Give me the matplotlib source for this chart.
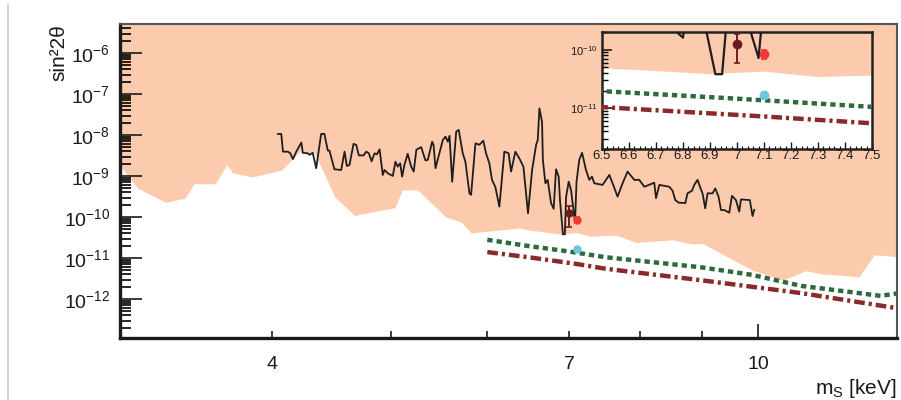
import matplotlib

matplotlib.use("Agg")
import matplotlib.pyplot as plt
import numpy as np
from matplotlib.lines import Line2D
from matplotlib.ticker import LogLocator, NullFormatter

plt.rcParams["font.family"] = ["Liberation Sans", "DejaVu Sans"]
plt.rcParams["mathtext.fontset"] = "custom"
plt.rcParams["mathtext.rm"] = "Liberation Sans"
plt.rcParams["mathtext.it"] = "Liberation Sans:italic"
plt.rcParams["mathtext.bf"] = "Liberation Sans:bold"

# excluded region: lower edge of the shaded area (mass in keV, sin^2 2theta)
bound_mass = [3.00, 3.10, 3.27, 3.39, 3.45, 3.59, 3.67, 3.71, 3.85, 4.07, 4.21, 4.33,
              4.50, 4.67, 5.04, 5.11, 5.26, 5.55, 5.71, 5.82, 6.37, 6.50, 6.70, 6.90,
              7.00, 7.10, 7.30, 7.50, 7.65, 7.95, 8.51, 8.83, 9.00, 9.89, 10.47, 10.95,
              11.29, 12.10, 12.45, 12.95, 13.0]
bound_val = [1.8e-9, 5.1e-10, 2.3e-10, 2.9e-10, 6.5e-10, 6.5e-10, 1.9e-9, 1.2e-9, 9.5e-10,
             1.4e-9, 3.9e-9, 3.7e-9, 3.1e-10, 1.1e-10, 1.7e-10, 4.6e-10, 4.6e-10, 1.0e-10,
             7.6e-11, 4.1e-11, 5.4e-11, 4.8e-11, 4.3e-11, 3.8e-11, 4.0e-11, 4.2e-11,
             3.4e-11, 3.6e-11, 3.6e-11, 2.4e-11, 2.8e-11, 2.2e-11, 2.3e-11, 5.1e-12,
             2.9e-12, 4.9e-12, 4.1e-12, 3.5e-12, 1.2e-11, 1.1e-11, 1.1e-11]

# scan limit (black line)
scan_mass = [4.042, 4.067, 4.080, 4.118, 4.137, 4.157, 4.184, 4.224, 4.236, 4.276, 4.290,
             4.316, 4.344, 4.385, 4.412, 4.440, 4.454, 4.496, 4.554, 4.583, 4.603, 4.626,
             4.661, 4.685, 4.708, 4.750, 4.774, 4.798, 4.823, 4.850, 4.871, 4.896, 4.926,
             4.942, 4.973, 5.020, 5.045, 5.067, 5.090, 5.109, 5.131, 5.163, 5.197, 5.222,
             5.248, 5.296, 5.339, 5.363, 5.407, 5.421, 5.441, 5.517, 5.545, 5.569, 5.587,
             5.615, 5.658, 5.685, 5.728, 5.757, 5.801, 5.819, 5.867, 5.910, 5.955, 5.985,
             6.023, 6.053, 6.091, 6.138, 6.196, 6.246, 6.275, 6.326, 6.374, 6.423, 6.479,
             6.529, 6.579, 6.599, 6.620, 6.653, 6.663, 6.695, 6.724, 6.767, 6.800, 6.831,
             6.865, 6.882, 6.920, 6.945, 6.962, 6.996, 7.027, 7.080, 7.100, 7.137, 7.175,
             7.228, 7.273, 7.310, 7.342, 7.458, 7.553, 7.600, 7.672, 7.745, 7.818, 7.918,
             7.993, 8.069, 8.222, 8.249, 8.301, 8.459, 8.511, 8.555, 8.609, 8.718, 8.754,
             8.829, 8.866, 8.922, 8.963, 9.006, 9.052, 9.092, 9.178, 9.225, 9.283, 9.325,
             9.383, 9.472, 9.520, 9.592, 9.652, 9.683, 9.847, 9.897, 9.929]
scan_val = [1.07e-8, 1.07e-8, 3.95e-9, 3.95e-9, 3.6e-9, 2.6e-9, 3.95e-9, 6.6e-9, 3.7e-9,
            3.6e-9, 3.3e-9, 3.7e-9, 1.56e-9, 1.07e-8, 1.07e-8, 4.2e-9, 4.2e-9, 1.47e-9,
            1.41e-9, 3.95e-9, 1.77e-9, 1.87e-9, 6.1e-9, 5.8e-9, 3.2e-9, 3.2e-9, 3.95e-9,
            3.6e-9, 2.3e-9, 3.6e-9, 3.4e-9, 4.5e-9, 1.07e-9, 1.41e-9, 1.17e-9, 1.01e-9,
            2.25e-9, 1.7e-9, 2.06e-9, 9.7e-10, 1.87e-9, 3.5e-9, 1.7e-9, 1.29e-9, 4.4e-9,
            5.1e-9, 2.4e-9, 2.5e-9, 6.9e-9, 5.8e-9, 1.56e-9, 7.6e-9, 9.2e-9, 6.9e-9, 9.6e-9,
            7.3e-10, 1.22e-8, 1.34e-8, 3.6e-9, 2.25e-9, 3.8e-10, 3.5e-10, 6.3e-9, 5.8e-9,
            7.3e-9, 3.6e-9, 2.06e-9, 8.1e-10, 5.5e-10, 1.8e-10, 3.95e-9, 3.6e-9, 1.29e-9,
            3.95e-9, 2.7e-9, 1.7e-9, 1.24e-10, 1.41e-9, 5.8e-9, 7.6e-9, 4.5e-8, 2.1e-8,
            2.5e-9, 6.7e-10, 8.1e-10, 2.2e-10, 1.6e-10, 1.47e-9, 9.7e-10, 2.6e-10, 3.8e-11,
            3.8e-11, 3.15e-10, 7.3e-10, 4.6e-10, 7.2e-11, 7.3e-10, 2.5e-9, 3.7e-9, 1.41e-9,
            8.1e-10, 9.7e-10, 6.7e-10, 6.1e-10, 1.07e-9, 6.7e-10, 3.15e-10, 6.7e-10, 1.29e-9,
            8.1e-10, 8.1e-10, 5.5e-10, 6.9e-10, 2.9e-10, 6.1e-10, 5.5e-10, 4.4e-10, 2.6e-10,
            2.25e-10, 2.2e-10, 3.8e-10, 4.4e-10, 6.1e-10, 8.1e-10, 5.5e-10, 3.8e-10, 1.64e-10,
            3.8e-10, 3.8e-10, 5.0e-10, 3.15e-10, 1.49e-10, 1.49e-10, 1.28e-10, 3.3e-10,
            2.6e-10, 1.36e-10, 2.7e-10, 2.6e-10, 1.06e-10, 1.5e-10]

# projected sensitivities
green_mass = [6.0, 6.5, 7.0, 7.5, 8.97, 9.89, 10.85, 12.1, 12.6, 13.0]
green_val = [2.8e-11, 1.95e-11, 1.45e-11, 1.05e-11, 6.0e-12, 3.9e-12, 2.1e-12, 1.4e-12,
             1.2e-12, 1.37e-12]
red_mass = [6.0, 6.5, 7.1, 7.5, 8.97, 10.85, 13.0]
red_val = [1.4e-11, 1.04e-11, 7.2e-12, 5.5e-12, 2.9e-12, 1.4e-12, 6.0e-13]

# signal claims (mass, value, err low, err high)
pts_mass = [7.0, 7.1, 7.1]
pts_val = [1.25e-10, 8.5e-11, 1.7e-11]
pts_lo = [6.7e-11, 1.5e-11, 2.0e-12]
pts_hi = [6.0e-11, 1.3e-11, 2.0e-12]
pts_color = ["#6b1d1d", "#f03a3a", "#6fc8dc"]

inset_ticks = [6.5, 6.6, 6.7, 6.8, 6.9, 7.0, 7.1, 7.2, 7.3, 7.4, 7.5]
inset_labels = ["6.5", "6.6", "6.7", "6.8", "6.9", "7", "7.1", "7.2", "7.3", "7.4", "7.5"]

PEACH = "#fccbad"
GREEN = "#2d6a3e"
DRED = "#8c2a2a"


def draw(ax, scan_lw, line_lw, ms):
    ax.fill_between(bound_mass, bound_val, 1e-3, color=PEACH, lw=0, zorder=1)
    ax.plot(scan_mass, scan_val, color="#1e1e1e", lw=scan_lw, zorder=3)
    ax.plot(green_mass, green_val, color=GREEN, lw=line_lw, dashes=(1.2, 0.9), zorder=4)
    ax.plot(red_mass, red_val, color=DRED, lw=line_lw, dashes=(2.4, 0.9, 0.7, 0.9), zorder=4)
    for m, v, lo, hi, c in zip(pts_mass, pts_val, pts_lo, pts_hi, pts_color):
        ax.errorbar([m], [v], yerr=[[lo], [hi]], fmt="o", color=c, ms=ms,
                    capsize=2, elinewidth=1.4, capthick=1.2, zorder=5)


fig = plt.figure(figsize=(9.01, 4.0), dpi=100)
ax = fig.add_axes([0.1332, 0.156, 0.8624, 0.7828])
ax.set_xscale("log")
ax.set_yscale("log")
draw(ax, 1.3, 3.2, 5)
ax.set_xlim(3.0, 13.0)
ax.set_ylim(1.15e-13, 5e-6)

ax.set_xticks([10], labels=["10"])
ax.set_xticks([4, 5, 6, 7, 8, 9], labels=["4", "", "", "7", "", ""], minor=True)
ax.tick_params(axis="x", which="major", direction="in", length=10, width=1.2, pad=13,
               labelsize=14, colors="#1a1a1a")
ax.tick_params(axis="x", which="minor", direction="in", length=5, width=1.2, pad=13,
               labelsize=14, colors="#1a1a1a")
ax.yaxis.set_major_locator(LogLocator(base=10, numticks=30))
ax.yaxis.set_minor_locator(LogLocator(base=10, subs=np.arange(2, 10), numticks=30))
ax.yaxis.set_minor_formatter(NullFormatter())
ax.tick_params(axis="y", which="major", direction="in", length=16, width=1.2, pad=7,
               labelsize=14, colors="#1a1a1a")
ax.tick_params(axis="y", which="minor", direction="in", length=8, width=1.2)
for s in ["left", "bottom"]:
    ax.spines[s].set_linewidth(2.4)
    ax.spines[s].set_color("#1a1a1a")
for s in ["top", "right"]:
    ax.spines[s].set_linewidth(1.5)
    ax.spines[s].set_color("#555555")

ax.set_xlabel(r"m$_{\mathrm{S}}$ [keV]", loc="right", fontsize=15, color="#1a1a1a")
ax.xaxis.set_label_coords(1.0, -0.125)
ax.set_ylabel("sin²2θ", loc="top", fontsize=15, color="#1a1a1a")
ax.yaxis.set_label_coords(-0.067, 1.0)

# zoomed inset around 7 keV
axin = fig.add_axes([0.6681, 0.6275, 0.2997, 0.2925])
axin.set_yscale("log")
draw(axin, 1.6, 3.2, 6)
axin.set_xlim(6.5, 7.5)
axin.set_ylim(2e-12, 2e-10)
axin.set_facecolor("white")
axin.set_xticks(inset_ticks, labels=inset_labels)
axin.set_xticks(np.arange(6.5, 7.51, 0.02), minor=True)
axin.tick_params(axis="x", which="major", direction="in", length=5, width=1.0, pad=1,
                 labelsize=9.5, colors="#1a1a1a")
axin.tick_params(axis="x", which="minor", direction="in", length=2.5, width=0.8)
axin.yaxis.set_minor_formatter(NullFormatter())
axin.tick_params(axis="y", which="major", direction="in", length=7, width=1.2, pad=3,
                 labelsize=8, colors="#1a1a1a")
axin.tick_params(axis="y", which="minor", direction="in", length=4, width=1.0)
for s in axin.spines.values():
    s.set_linewidth(1.8)
    s.set_color("#222222")

fig.add_artist(Line2D([8 / 901, 8 / 901], [0, 0.9875], transform=fig.transFigure,
                      color="#c8c8c8", lw=1.2))

fig.savefig("out.png", dpi=100)
